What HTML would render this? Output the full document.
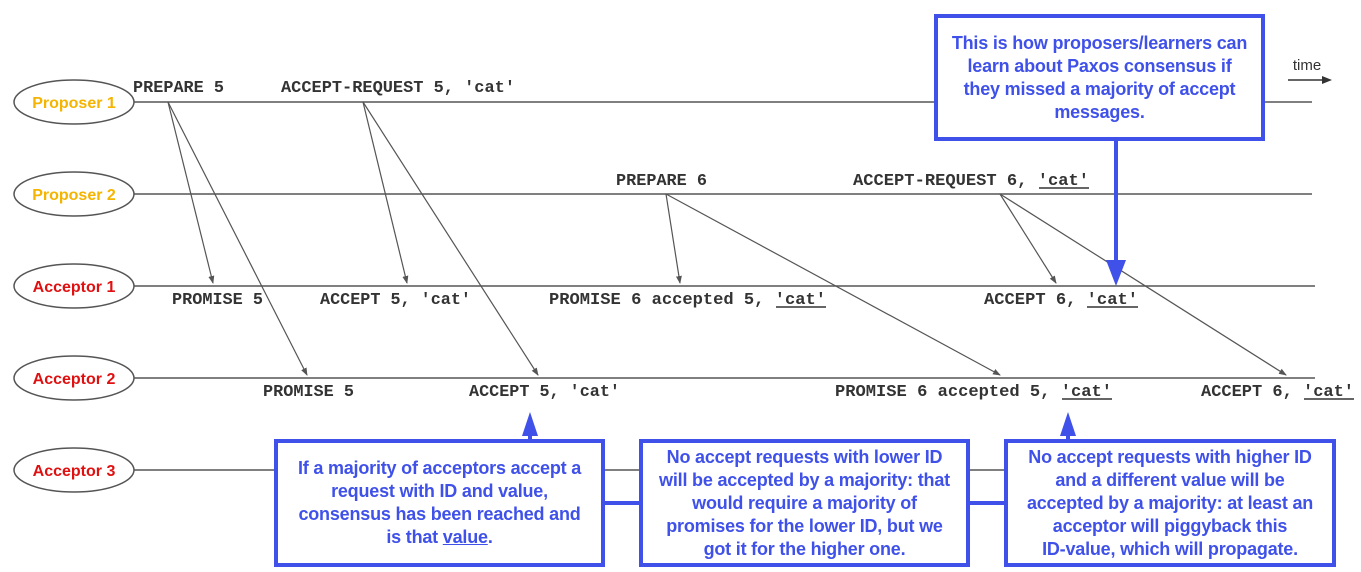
<!DOCTYPE html>
<html><head><meta charset="utf-8"><style>
body{margin:0;background:#fff;width:1361px;height:572px;overflow:hidden;position:relative;font-family:"Liberation Sans",sans-serif}
svg{position:absolute;left:0;top:0}
.box{position:absolute;border:4px solid #3f51e8;background:#fff;box-sizing:border-box;color:#3f51e8;font-weight:bold;font-size:18px;line-height:23px;text-align:center;display:flex;align-items:center;justify-content:center;white-space:nowrap;letter-spacing:-0.2px}
.box>div{display:block}
</style></head><body>
<svg width="1361" height="572" viewBox="0 0 1361 572">
<defs><marker id="a" markerWidth="8" markerHeight="8" refX="7" refY="4" orient="auto" markerUnits="userSpaceOnUse"><path d="M0,1 L8,4 L0,7 z" fill="#555"/></marker></defs>
<g stroke="#555" stroke-width="1.6">
<line x1="134" y1="102" x2="1312" y2="102"/>
<line x1="134" y1="194" x2="1312" y2="194"/>
<line x1="134" y1="286" x2="1315" y2="286"/>
<line x1="134" y1="378" x2="1315" y2="378"/>
<line x1="134" y1="470" x2="1315" y2="470"/>
</g>
<g fill="#fff" stroke="#555" stroke-width="1.5">
<ellipse cx="74" cy="102" rx="60" ry="22"/>
<ellipse cx="74" cy="194" rx="60" ry="22"/>
<ellipse cx="74" cy="286" rx="60" ry="22"/>
<ellipse cx="74" cy="378" rx="60" ry="22"/>
<ellipse cx="74" cy="470" rx="60" ry="22"/>
</g>
<g font-family="Liberation Sans, sans-serif" font-weight="bold" font-size="16" text-anchor="middle">
<text x="74" y="108" fill="#f4b400">Proposer 1</text>
<text x="74" y="200" fill="#f4b400">Proposer 2</text>
<text x="74" y="292" fill="#e01010">Acceptor 1</text>
<text x="74" y="384" fill="#e01010">Acceptor 2</text>
<text x="74" y="476" fill="#e01010">Acceptor 3</text>
</g>
<g stroke="#555" stroke-width="1.2" marker-end="url(#a)">
<line x1="168" y1="102" x2="213" y2="283"/>
<line x1="168" y1="102" x2="307" y2="375"/>
<line x1="363" y1="102" x2="407" y2="283"/>
<line x1="363" y1="102" x2="538" y2="375"/>
<line x1="666" y1="194" x2="680" y2="283"/>
<line x1="666" y1="194" x2="1000" y2="375"/>
<line x1="1000" y1="194" x2="1056" y2="283"/>
<line x1="1000" y1="194" x2="1286" y2="375"/>
</g>
<g font-family="Liberation Mono, monospace" font-weight="bold" font-size="17" fill="#333">
<text x="133" y="92" textLength="91" lengthAdjust="spacingAndGlyphs">PREPARE 5</text>
<text x="281" y="92" textLength="234" lengthAdjust="spacingAndGlyphs">ACCEPT-REQUEST 5, 'cat'</text>
<text x="616" y="185" textLength="91" lengthAdjust="spacingAndGlyphs">PREPARE 6</text>
<text x="853" y="185" textLength="236" lengthAdjust="spacingAndGlyphs">ACCEPT-REQUEST 6, 'cat'</text>
<text x="172" y="304" textLength="91" lengthAdjust="spacingAndGlyphs">PROMISE 5</text>
<text x="320" y="304" textLength="151" lengthAdjust="spacingAndGlyphs">ACCEPT 5, 'cat'</text>
<text x="549" y="304" textLength="277" lengthAdjust="spacingAndGlyphs">PROMISE 6 accepted 5, 'cat'</text>
<text x="984" y="304" textLength="154" lengthAdjust="spacingAndGlyphs">ACCEPT 6, 'cat'</text>
<text x="263" y="396" textLength="91" lengthAdjust="spacingAndGlyphs">PROMISE 5</text>
<text x="469" y="396" textLength="151" lengthAdjust="spacingAndGlyphs">ACCEPT 5, 'cat'</text>
<text x="835" y="396" textLength="277" lengthAdjust="spacingAndGlyphs">PROMISE 6 accepted 5, 'cat'</text>
<text x="1201" y="396" textLength="153" lengthAdjust="spacingAndGlyphs">ACCEPT 6, 'cat'</text>
</g>
<g stroke="#333" stroke-width="1.5">
<line x1="1039" y1="188" x2="1089" y2="188"/>
<line x1="776" y1="307" x2="826" y2="307"/>
<line x1="1087" y1="307" x2="1138" y2="307"/>
<line x1="1062" y1="399" x2="1112" y2="399"/>
<line x1="1304" y1="399" x2="1354" y2="399"/>
</g>
<text x="1307" y="70" font-family="Liberation Sans, sans-serif" font-size="15" fill="#333" text-anchor="middle">time</text>
<line x1="1288" y1="80" x2="1324" y2="80" stroke="#333" stroke-width="1.5"/>
<path d="M1322,76 L1332,80 L1322,84 z" fill="#333"/>
<g stroke="#3f51e8" stroke-width="4">
<line x1="1116" y1="140" x2="1116" y2="262"/>
<line x1="530" y1="440" x2="530" y2="430"/>
<line x1="1068" y1="440" x2="1068" y2="430"/>
<line x1="604" y1="503" x2="640" y2="503"/>
<line x1="969" y1="503" x2="1004" y2="503"/>
</g>
<g fill="#3f51e8">
<path d="M1106,260 L1126,260 L1116,286 z"/>
<path d="M522,436 L538,436 L530,412 z"/>
<path d="M1060,436 L1076,436 L1068,412 z"/>
</g>
</svg>
<div class="box" style="left:934px;top:14px;width:331px;height:127px"><div>This is how proposers/learners can<br>learn about Paxos consensus if<br>they missed a majority of accept<br>messages.</div></div>
<div class="box" style="left:274px;top:439px;width:331px;height:128px"><div>If a majority of acceptors accept a<br>request with ID and value,<br>consensus has been reached and<br>is that <u>value</u>.</div></div>
<div class="box" style="left:639px;top:439px;width:331px;height:128px"><div>No accept requests with lower ID<br>will be accepted by a majority: that<br>would require a majority of<br>promises for the lower ID, but we<br>got it for the higher one.</div></div>
<div class="box" style="left:1004px;top:439px;width:332px;height:128px"><div>No accept requests with higher ID<br>and a different value will be<br>accepted by a majority: at least an<br>acceptor will piggyback this<br>ID-value, which will propagate.</div></div>
</body></html>
